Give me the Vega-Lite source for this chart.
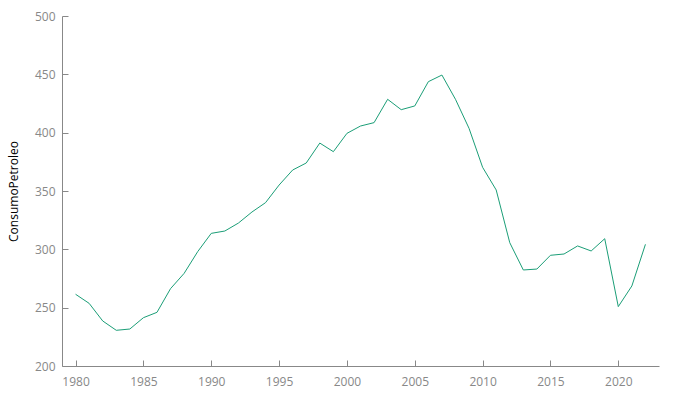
{
  "$schema": "https://vega.github.io/schema/vega-lite/v6.json",
  "autosize": "none",
  "width": 597,
  "height": 350,
  "padding": {"left": 62, "top": 16, "right": 21, "bottom": 34},
  "background": "white",
  "config": {
    "view": {"stroke": null},
    "font": "Open Sans",
    "axis": {
      "grid": false,
      "domainColor": "#888888",
      "tickColor": "#888888",
      "labelColor": "#888888",
      "labelFontSize": 12,
      "titleFontSize": 12,
      "titleFontWeight": "normal",
      "titleColor": "#000000",
      "labelFont": "Open Sans",
      "titleFont": "Open Sans"
    }
  },
  "data": {
    "values": [
      {"Anio": 1980, "ConsumoPetroleo": 261.5},
      {"Anio": 1981, "ConsumoPetroleo": 253.7},
      {"Anio": 1982, "ConsumoPetroleo": 238.6},
      {"Anio": 1983, "ConsumoPetroleo": 230.6},
      {"Anio": 1984, "ConsumoPetroleo": 231.7},
      {"Anio": 1985, "ConsumoPetroleo": 241.4},
      {"Anio": 1986, "ConsumoPetroleo": 246.0},
      {"Anio": 1987, "ConsumoPetroleo": 266.3},
      {"Anio": 1988, "ConsumoPetroleo": 279.4},
      {"Anio": 1989, "ConsumoPetroleo": 298.0},
      {"Anio": 1990, "ConsumoPetroleo": 313.7},
      {"Anio": 1991, "ConsumoPetroleo": 315.7},
      {"Anio": 1992, "ConsumoPetroleo": 322.5},
      {"Anio": 1993, "ConsumoPetroleo": 332.0},
      {"Anio": 1994, "ConsumoPetroleo": 340.0},
      {"Anio": 1995, "ConsumoPetroleo": 355.1},
      {"Anio": 1996, "ConsumoPetroleo": 368.0},
      {"Anio": 1997, "ConsumoPetroleo": 374.0},
      {"Anio": 1998, "ConsumoPetroleo": 391.1},
      {"Anio": 1999, "ConsumoPetroleo": 383.7},
      {"Anio": 2000, "ConsumoPetroleo": 399.4},
      {"Anio": 2001, "ConsumoPetroleo": 405.7},
      {"Anio": 2002, "ConsumoPetroleo": 408.6},
      {"Anio": 2003, "ConsumoPetroleo": 428.6},
      {"Anio": 2004, "ConsumoPetroleo": 419.7},
      {"Anio": 2005, "ConsumoPetroleo": 422.9},
      {"Anio": 2006, "ConsumoPetroleo": 443.7},
      {"Anio": 2007, "ConsumoPetroleo": 449.4},
      {"Anio": 2008, "ConsumoPetroleo": 428.6},
      {"Anio": 2009, "ConsumoPetroleo": 403.7},
      {"Anio": 2010, "ConsumoPetroleo": 370.3},
      {"Anio": 2011, "ConsumoPetroleo": 350.9},
      {"Anio": 2012, "ConsumoPetroleo": 305.7},
      {"Anio": 2013, "ConsumoPetroleo": 282.3},
      {"Anio": 2014, "ConsumoPetroleo": 283.1},
      {"Anio": 2015, "ConsumoPetroleo": 294.9},
      {"Anio": 2016, "ConsumoPetroleo": 296.0},
      {"Anio": 2017, "ConsumoPetroleo": 302.9},
      {"Anio": 2018, "ConsumoPetroleo": 298.6},
      {"Anio": 2019, "ConsumoPetroleo": 309.1},
      {"Anio": 2020, "ConsumoPetroleo": 250.9},
      {"Anio": 2021, "ConsumoPetroleo": 268.6},
      {"Anio": 2022, "ConsumoPetroleo": 304.3}
    ]
  },
  "mark": {"type": "line", "color": "#1b9e77", "strokeWidth": 1},
  "encoding": {
    "x": {
      "field": "Anio",
      "type": "quantitative",
      "scale": {"domain": [1979, 2023], "nice": false},
      "axis": {"title": null, "format": "d", "values": [1980, 1985, 1990, 1995, 2000, 2005, 2010, 2015, 2020], "tickSize": -6, "labelPadding": 16}
    },
    "y": {
      "field": "ConsumoPetroleo",
      "type": "quantitative",
      "scale": {"domain": [200, 500], "nice": false, "zero": false},
      "axis": {"title": "ConsumoPetroleo", "values": [200, 250, 300, 350, 400, 450, 500], "tickSize": -6, "labelPadding": 13, "titlePadding": 14}
    }
  }
}
